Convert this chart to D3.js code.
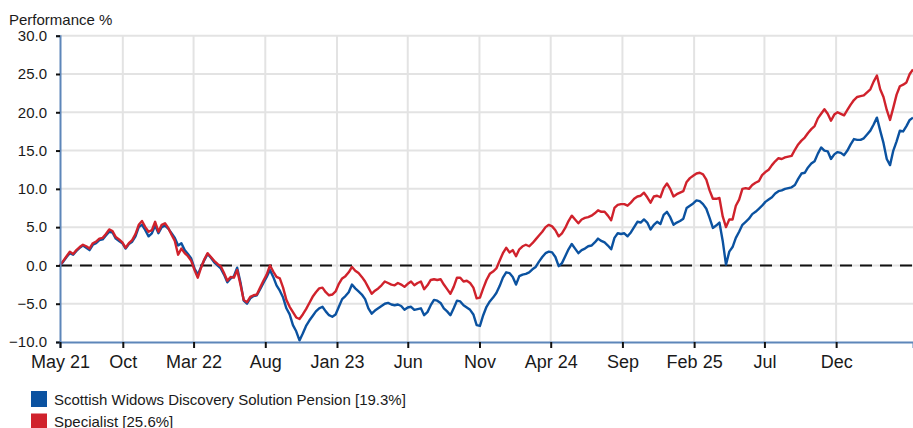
<!DOCTYPE html>
<html>
<head>
<meta charset="utf-8">
<script src="https://cdn.jsdelivr.net/npm/d3@7/dist/d3.min.js"></script>
<style>
  html, body { margin: 0; padding: 0; background: #fff; }
  svg { display: block; font-family: "Liberation Sans", Arial, sans-serif; }
</style>
</head>
<body>
<svg id="chart" width="913" height="428"></svg>
<script>
// Weekly observations, starting 20 May 2021
const startDate = "2021-05-20";
const stepDays = 7;

const fundName = "Scottish Widows Discovery Solution Pension";
const sectorName = "Specialist";

// Cumulative performance, %
const fundValues = [
  0.0, 0.5, 1.1, 1.6, 1.4, 1.9, 2.3, 2.6, 2.3, 2.0,
  2.7, 2.9, 3.3, 3.4, 3.9, 4.4, 4.3, 3.5, 3.2, 2.9,
  2.2, 2.8, 3.1, 3.8, 5.0, 5.3, 4.6, 3.8, 4.2, 5.2,
  4.2, 5.0, 5.2, 4.8, 4.2, 3.6, 2.6, 2.9, 2.0, 1.5,
  0.9, -0.4, -1.2, -0.2, 0.7, 1.5, 1.0, 0.4, 0.0, -0.4,
  -1.2, -2.2, -1.7, -1.4, -0.3, -2.2, -4.6, -5.0, -4.3, -4.0,
  -3.9, -3.1, -2.3, -1.5, -0.6, -1.5, -2.6, -3.3, -4.2, -5.6,
  -6.4, -7.8, -8.6, -9.8, -8.9, -7.9, -7.2, -6.6, -6.0, -5.6,
  -5.4, -6.0, -6.5, -6.7, -6.4, -5.4, -4.4, -4.0, -3.5, -2.5,
  -3.0, -3.4, -3.8, -4.4, -5.6, -6.3, -5.9, -5.6, -5.3, -5.0,
  -4.9, -5.1, -5.2, -5.1, -5.3, -5.8, -5.5, -5.4, -5.8, -5.7,
  -5.6, -6.5, -6.1, -5.2, -4.5, -4.6, -4.9, -5.6, -6.0, -6.5,
  -5.6, -4.6, -4.7, -5.2, -5.5, -5.8, -6.4, -7.8, -7.9, -6.5,
  -5.4, -4.7, -4.2, -3.6, -2.7, -1.6, -0.9, -1.0, -1.5, -2.5,
  -1.4, -1.2, -1.1, -0.9, -0.5, -0.2, 0.5, 1.1, 1.6, 1.8,
  1.7, 1.1, -0.1, 0.3, 1.2, 2.1, 2.8, 2.2, 1.6, 2.0,
  2.2, 2.5, 2.6, 3.0, 3.5, 3.2, 3.0, 2.6, 2.1, 3.6,
  4.2, 4.1, 4.2, 3.8, 4.3, 5.0, 5.7, 5.6, 6.0, 5.6,
  4.7, 5.3, 5.7, 5.4, 6.6, 7.0, 6.3, 5.3, 5.6, 5.8,
  6.1, 7.5, 7.8, 8.1, 8.5, 8.4, 8.0, 7.4, 6.2, 4.9,
  5.2, 5.6, 3.2, 0.1, 1.8, 2.4, 3.6, 4.4, 5.3, 5.7,
  6.1, 6.7, 7.0, 7.4, 7.8, 8.3, 8.6, 8.9, 9.4, 9.7,
  9.8, 10.0, 10.1, 10.2, 10.5, 11.3, 12.0, 12.1, 12.8, 13.3,
  13.6, 14.6, 15.4, 15.0, 14.9, 13.9, 14.5, 14.8, 14.7, 14.4,
  15.0, 15.8, 16.5, 16.4, 16.4, 16.6, 17.1, 17.6, 18.4, 19.3,
  17.6, 16.0, 13.9, 13.1, 15.0, 16.2, 17.6, 17.5, 18.2, 19.0,
  19.3
];

const sectorValues = [
  0.0, 0.6, 1.2, 1.8, 1.5, 2.0, 2.4, 2.7, 2.5, 2.2,
  2.9, 3.1, 3.5, 3.6, 4.1, 4.7, 4.5, 3.7, 3.4, 3.0,
  2.3, 2.9, 3.3, 4.1, 5.3, 5.8, 5.0, 4.4, 4.6, 5.7,
  4.4, 5.3, 5.5, 4.9, 4.0, 3.2, 1.4, 2.2, 1.6, 1.2,
  0.6, -0.6, -1.6, -0.3, 0.8, 1.6, 1.1, 0.6, 0.2, -0.1,
  -1.0, -2.0, -1.5, -1.6, -0.6, -2.5, -4.5, -4.8, -4.1, -3.9,
  -3.8, -2.9, -2.0, -1.2, 0.0, -0.8, -1.5, -1.7, -2.9, -4.5,
  -5.4, -6.1, -6.8, -7.0, -6.4, -5.7, -4.9, -4.1, -3.5, -3.0,
  -2.9, -3.5, -3.9, -3.8, -3.4, -2.4, -1.7, -1.4, -0.9, -0.2,
  -0.7, -1.0, -1.5, -2.1, -2.9, -3.7, -3.3, -3.0, -2.6, -2.1,
  -2.3, -2.5, -2.6, -2.3, -2.5, -2.8, -2.4, -2.1, -2.6, -2.3,
  -2.1, -3.1, -2.6, -1.9, -1.8, -1.9, -1.8, -2.5, -3.1, -3.7,
  -2.8, -1.6, -1.6, -2.1, -2.0, -2.3, -2.9, -4.3, -4.2, -3.0,
  -1.9, -1.1, -0.8, -0.4, 0.6, 1.6, 2.3, 1.7, 2.0, 1.2,
  2.1, 2.5, 2.7, 2.5, 2.9, 3.4, 3.9, 4.4, 5.0, 5.3,
  5.1, 4.6, 3.8, 4.2, 4.9, 5.8, 6.5, 6.0, 5.5, 6.0,
  6.2, 6.3, 6.5, 6.8, 7.2, 7.0, 7.0, 6.5, 5.9, 7.5,
  7.9, 8.0, 8.0, 7.8, 8.2, 8.7, 9.0, 9.1, 9.5, 8.9,
  8.2, 9.0, 9.1, 8.9, 10.1, 10.7, 10.0, 9.0, 9.3, 9.5,
  9.7, 10.9, 11.4, 11.7, 12.0, 12.1, 11.9, 11.2, 9.8, 8.7,
  8.7, 8.8, 6.4, 5.0, 6.0, 6.0, 7.8, 8.6, 10.0, 10.1,
  10.0, 10.5, 10.8, 11.0, 11.8, 12.2, 12.5, 13.1, 13.6, 14.0,
  13.9, 14.1, 14.2, 14.3, 15.1, 15.8, 16.3, 16.7, 17.3, 17.8,
  18.2, 19.2, 19.8, 20.4, 19.8, 18.9, 19.7, 20.0, 19.8, 19.6,
  20.3, 21.0, 21.6, 22.0, 22.1, 22.2, 22.6, 23.0, 24.0, 24.8,
  23.0, 22.0, 20.3, 19.0, 20.6, 22.3, 23.4, 23.6, 23.9, 25.0,
  25.6
];

// Axis ticks
const yTicks = [-10, -5, 0, 5, 10, 15, 20, 25, 30];
const xTickDates = ["2021-05-20", "2021-10-01", "2022-03-01", "2022-08-01", "2023-01-01", "2023-06-01",
                    "2023-11-01", "2024-04-01", "2024-09-01", "2025-02-01", "2025-07-01", "2025-12-01"];
const xTickLabels = ["May 21", "Oct", "Mar 22", "Aug", "Jan 23", "Jun",
                     "Nov", "Apr 24", "Sep", "Feb 25", "Jul", "Dec"];

const colors = { fund: "#0b52a0", sector: "#d0222c", axis: "#5d86b9", grid: "#e3e3e3" };

const parse = d3.utcParse("%Y-%m-%d");
const t0 = parse(startDate);
const dates = fundValues.map((_, i) => d3.utcDay.offset(t0, i * stepDays));
const fund = fundValues.map((v, i) => ({ date: dates[i], value: v }));
const sector = sectorValues.map((v, i) => ({ date: dates[i], value: v }));

const svg = d3.select("#chart");
const plot = { left: 60, right: 913, top: 35.7, bottom: 342 };

const x = d3.scaleUtc().domain([dates[0], dates[dates.length - 1]]).range([plot.left, plot.right]);
const y = d3.scaleLinear().domain([-10, 30]).range([plot.bottom, plot.top]);
const tickDates = xTickDates.map(parse);

// Gridlines
const grid = svg.append("g");
grid.selectAll("line.h").data(yTicks.filter(v => v > -10)).join("line")
  .attr("class", "h")
  .attr("x1", plot.left).attr("x2", plot.right)
  .attr("y1", d => y(d)).attr("y2", d => y(d))
  .attr("stroke", colors.grid).attr("stroke-width", 2);
grid.selectAll("line.v").data(tickDates.slice(1)).join("line")
  .attr("class", "v")
  .attr("x1", d => x(d)).attr("x2", d => x(d))
  .attr("y1", plot.top).attr("y2", plot.bottom)
  .attr("stroke", colors.grid).attr("stroke-width", 2);

// Zero reference line
svg.append("line")
  .attr("x1", plot.left).attr("x2", plot.right)
  .attr("y1", y(0)).attr("y2", y(0))
  .attr("stroke", "#111").attr("stroke-width", 2)
  .attr("stroke-dasharray", "12,8");

// Series
const line = d3.line().x(d => x(d.date)).y(d => y(d.value));
svg.append("path").datum(fund)
  .attr("fill", "none").attr("stroke", colors.fund).attr("stroke-width", 2.4)
  .attr("stroke-linejoin", "round").attr("d", line);
svg.append("path").datum(sector)
  .attr("fill", "none").attr("stroke", colors.sector).attr("stroke-width", 2.4)
  .attr("stroke-linejoin", "round").attr("d", line);

// Y axis
const yAxis = svg.append("g").attr("transform", `translate(${plot.left},0)`)
  .call(d3.axisLeft(y).tickValues(yTicks).tickFormat(d3.format(".1f")).tickSize(4).tickPadding(9));
yAxis.select(".domain").attr("stroke", colors.axis).attr("stroke-width", 2);
yAxis.selectAll(".tick line").attr("stroke", "#111").attr("stroke-width", 2);
yAxis.selectAll(".tick text").attr("font-size", 15).attr("fill", "#1a1a1a")
  .attr("font-family", "Liberation Sans, Arial, sans-serif");

// X axis
const xAxis = svg.append("g").attr("transform", `translate(0,${plot.bottom})`)
  .call(d3.axisBottom(x).tickValues(tickDates).tickFormat((d, i) => xTickLabels[i]).tickSize(6).tickPadding(7));
xAxis.select(".domain").attr("stroke", colors.axis).attr("stroke-width", 2);
xAxis.selectAll(".tick line").attr("stroke", "#111").attr("stroke-width", 2);
xAxis.selectAll(".tick text").attr("font-size", 18).attr("fill", "#1a1a1a")
  .attr("font-family", "Liberation Sans, Arial, sans-serif");

// Axis title
svg.append("text").attr("x", 9).attr("y", 25)
  .attr("font-size", 15).attr("fill", "#1a1a1a").text("Performance %");

// Legend
const legend = [
  { label: `${fundName} [${fundValues[fundValues.length - 1].toFixed(1)}%]`, color: colors.fund },
  { label: `${sectorName} [${sectorValues[sectorValues.length - 1].toFixed(1)}%]`, color: colors.sector }
];
const lg = svg.append("g").selectAll("g").data(legend).join("g")
  .attr("transform", (d, i) => `translate(31,${391 + i * 22.5})`);
lg.append("rect").attr("width", 16).attr("height", 16).attr("fill", d => d.color);
lg.append("text").attr("x", 23).attr("y", 13.5).attr("font-size", 15).attr("fill", "#1a1a1a").text(d => d.label);
</script>
</body>
</html>
